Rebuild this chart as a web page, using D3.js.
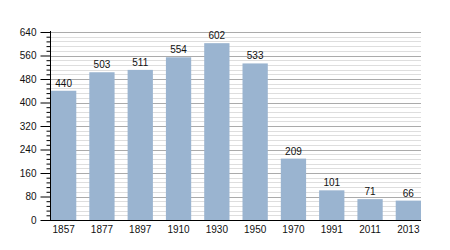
<!DOCTYPE html>
<html>
<head>
<meta charset="utf-8">
<script src="https://cdn.jsdelivr.net/npm/d3@7"></script>
<style>
	body { margin: 0; background: #fff; }
	text { font-family: "Liberation Sans", Arial, sans-serif; }
</style>
</head>
<body>
<script>
	var years = [ "1857", "1877", "1897", "1910", "1930", "1950", "1970", "1991", "2011", "2013" ];
	var population = [ 440, 503, 511, 554, 602, 533, 209, 101, 71, 66 ];
	var majorTicks = [ 0, 80, 160, 240, 320, 400, 480, 560, 640 ];

	var width = 450, height = 250;
	var plotLeft = 50, plotRight = 421, plotTop = 32, plotBottom = 220;
	var fontSize = 10;

	var svg = d3.select("body").append("svg")
		.attr("width", width)
		.attr("height", height);

	var x = d3.scaleBand().domain(years).range([ plotLeft + 1, plotRight ])
		.paddingInner(0.34).paddingOuter(0);
	var y = d3.scaleLinear().domain([ 0, 640 ]).range([ plotBottom, plotTop ]);

	var minorTicks = d3.range(0, 641, 16).filter(function(v) {
		return v % 80 != 0;
	});

	// grid lines, minor first so majors sit on top
	svg.append("g").selectAll("line").data(minorTicks).enter().append("line")
		.attr("x1", plotLeft).attr("x2", plotRight)
		.attr("y1", function(d) { return Math.round(y(d)) + 0.5; })
		.attr("y2", function(d) { return Math.round(y(d)) + 0.5; })
		.attr("stroke", "#dedede");
	svg.append("g").selectAll("line").data(majorTicks.slice(1)).enter().append("line")
		.attr("x1", plotLeft).attr("x2", plotRight)
		.attr("y1", function(d) { return Math.round(y(d)) + 0.5; })
		.attr("y2", function(d) { return Math.round(y(d)) + 0.5; })
		.attr("stroke", "#ababab");

	svg.append("g").selectAll("rect").data(population).enter().append("rect")
		.attr("x", function(d, i) { return x(years[i]); })
		.attr("y", function(d) { return y(d); })
		.attr("width", x.bandwidth())
		.attr("height", function(d) { return y(0) - y(d); })
		.attr("fill", "#9ab4d0");

	svg.append("g").selectAll("text").data(population).enter().append("text")
		.attr("x", function(d, i) { return x(years[i]) + x.bandwidth() / 2; })
		.attr("y", function(d) { return y(d) - 4; })
		.attr("text-anchor", "middle")
		.attr("font-size", fontSize)
		.attr("fill", "#111")
		.text(function(d) { return d; });

	// y axis with major and minor ticks
	var yAxis = svg.append("g").attr("transform", "translate(" + (plotLeft + 0.5) + ",0)");
	yAxis.call(d3.axisLeft(y).tickValues(minorTicks).tickSize(4).tickFormat(""));
	yAxis.append("g").call(d3.axisLeft(y).tickValues(majorTicks).tickSize(10).tickPadding(4));
	yAxis.selectAll(".domain").remove();
	yAxis.append("line").attr("y1", plotTop - 1).attr("y2", plotBottom + 1).attr("stroke", "#000");
	yAxis.selectAll("text").attr("font-size", fontSize).attr("font-family", "Liberation Sans, Arial, sans-serif").attr("fill", "#111");
	yAxis.selectAll("line").attr("stroke", "#000");

	var xAxis = svg.append("g").attr("transform", "translate(0," + (plotBottom + 0.5) + ")");
	xAxis.call(d3.axisBottom(x).tickSize(0).tickPadding(5));
	xAxis.select(".domain").remove();
	xAxis.append("line").attr("x1", plotLeft - 5).attr("x2", plotRight).attr("stroke", "#000");
	xAxis.selectAll("text").attr("font-size", fontSize).attr("font-family", "Liberation Sans, Arial, sans-serif").attr("fill", "#111");
</script>
</body>
</html>
